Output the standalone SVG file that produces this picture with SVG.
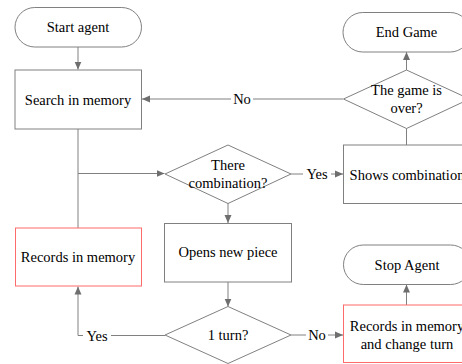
<svg xmlns="http://www.w3.org/2000/svg" width="462" height="364" viewBox="0 0 462 364">
<defs>
<style>
.box{fill:#fff;stroke:#808080;stroke-width:1}
.red{fill:#fff;stroke:#ff6b6b;stroke-width:1}
.ln{fill:none;stroke:#808080;stroke-width:1}
.t{font-family:'Liberation Serif','Times New Roman',serif;font-size:14.5px;fill:#000;text-anchor:middle;dominant-baseline:central}
.lbl{fill:#fff;stroke:none}
</style>
<marker id="ah" markerWidth="8" markerHeight="8" refX="8" refY="4" orient="auto" markerUnits="userSpaceOnUse">
<path d="M0,0.5 L8,4 L0,7.5 Z" fill="#6e6e6e"/>
</marker>
</defs>
<rect width="462" height="364" fill="#fff"/>
<g id="connectors">
<path class="ln" d="M78,47 V69.5" marker-end="url(#ah)"/>
<path class="ln" d="M78,129 V228"/>
<path class="ln" d="M78,173.5 H164.5" marker-end="url(#ah)"/>
<path class="ln" d="M343,99 H142" marker-end="url(#ah)"/>
<path class="ln" d="M291,174 H343" marker-end="url(#ah)"/>
<path class="ln" d="M406.5,145 V70.5" marker-end="url(#ah)"/>
<path class="ln" d="M406.5,70 V52" marker-end="url(#ah)"/>
<path class="ln" d="M228,203 V223" marker-end="url(#ah)"/>
<path class="ln" d="M228,282 V306.5" marker-end="url(#ah)"/>
<path class="ln" d="M165,335.5 H78 V286.5" marker-end="url(#ah)"/>
<path class="ln" d="M291,335 H343" marker-end="url(#ah)"/>
<path class="ln" d="M406.5,305 V284.5" marker-end="url(#ah)"/>
<g>
<rect class="lbl" x="231" y="92" width="22" height="14"/>
<text class="t" x="242" y="99">No</text>
<rect class="lbl" x="303" y="167" width="28" height="14"/>
<text class="t" x="317" y="174">Yes</text>
<rect class="lbl" x="83" y="328" width="28" height="14"/>
<text class="t" x="97" y="335.5">Yes</text>
<rect class="lbl" x="306" y="328" width="22" height="14"/>
<text class="t" x="317" y="335">No</text>
</g>
</g>
<g id="start-agent">
<rect class="box" x="15" y="7.5" width="126.5" height="39.5" rx="19.75"/>
<text class="t" x="78" y="27">Start agent</text>
</g>
<g id="search-memory">
<rect class="box" x="15" y="70" width="126.5" height="59"/>
<text class="t" x="78" y="99.5">Search in memory</text>
</g>
<g id="end-game">
<rect class="box" x="343" y="12.5" width="127" height="39.5" rx="19.75"/>
<text class="t" x="406.5" y="32">End Game</text>
</g>
<g id="game-over">
<polygon class="box" points="406.5,70 469.5,99 406.5,128.5 343.5,99"/>
<text class="t" x="406.5" y="90">The game is</text>
<text class="t" x="406.5" y="108">over?</text>
</g>
<g id="there-combination">
<polygon class="box" points="228,145 291,174 228,203.5 165,174"/>
<text class="t" x="228" y="165">There</text>
<text class="t" x="228" y="183">combination?</text>
</g>
<g id="shows-combination">
<rect class="box" x="343.5" y="145" width="127" height="58.5"/>
<text class="t" x="407" y="175">Shows combination</text>
</g>
<g id="records-memory">
<rect class="red" x="15.5" y="228" width="126" height="58"/>
<text class="t" x="78" y="256.5">Records in memory</text>
</g>
<g id="opens-new-piece">
<rect class="box" x="164.5" y="223.5" width="127" height="58.5"/>
<text class="t" x="228" y="252">Opens new piece</text>
</g>
<g id="stop-agent">
<rect class="box" x="343.5" y="245" width="127" height="39.5" rx="19.75"/>
<text class="t" x="407" y="264.5">Stop Agent</text>
</g>
<g id="one-turn">
<polygon class="box" points="228,306.5 291,335 228,363.5 165,335"/>
<text class="t" x="228" y="335">1 turn?</text>
</g>
<g id="records-change-turn">
<rect class="red" x="343.5" y="305" width="127" height="57.5"/>
<text class="t" x="407" y="326">Records in memory</text>
<text class="t" x="407" y="343.5">and change turn</text>
</g>
</svg>
